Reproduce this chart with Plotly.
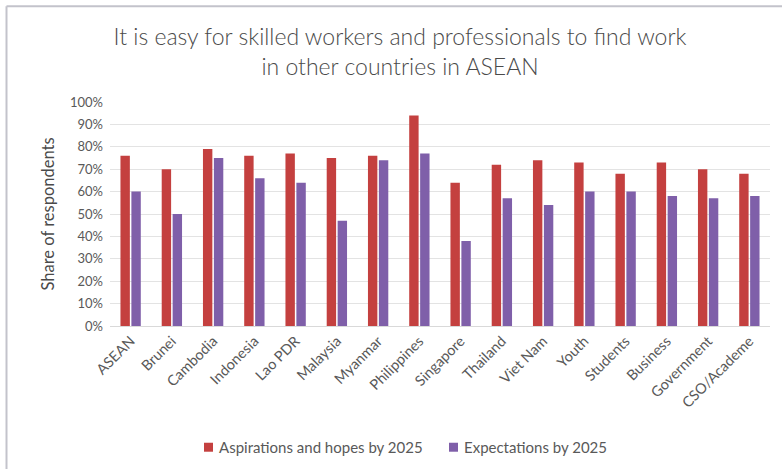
import plotly.graph_objects as go

# Survey categories and the two response series (share of respondents, %)
categories = ["ASEAN", "Brunei", "Cambodia", "Indonesia", "Lao PDR", "Malaysia",
              "Myanmar", "Philippines", "Singapore", "Thailand", "Viet Nam",
              "Youth", "Students", "Business", "Government", "CSO/Academe"]
aspirations = [76, 70, 79, 76, 77, 75, 76, 94, 64, 72, 74, 73, 68, 73, 70, 68]
expectations = [60, 50, 75, 66, 64, 47, 74, 77, 38, 57, 54, 60, 60, 58, 57, 58]
series_names = ["Aspirations and hopes by 2025", "Expectations by 2025"]

y_ticks = list(range(0, 101, 10))
y_tick_labels = [f"{v}%" for v in y_ticks]

FONT = "Lato"
RED = "#c4403f"
PURPLE = "#7f5fa9"

fig = go.Figure()
fig.add_trace(go.Bar(x=categories, y=aspirations, name=series_names[0],
                     marker=dict(color=RED, line=dict(width=0))))
fig.add_trace(go.Bar(x=categories, y=expectations, name=series_names[1],
                     marker=dict(color=PURPLE, line=dict(width=0))))

W, H = 782, 469
L, R, T, B = 110, 12, 101.5, 143
pw, ph = W - L - R, H - T - B


def px_to_paper_x(px):
    return (px - L) / pw


def px_to_paper_y(py):
    return 1 - (py - T) / ph


# Frame around the whole graphic (top and left edges visible)
shapes = [
    dict(type="line", xref="paper", yref="paper",
         x0=px_to_paper_x(6.5), x1=px_to_paper_x(W + 10),
         y0=px_to_paper_y(5.5), y1=px_to_paper_y(5.5),
         line=dict(color="#c3c3cb", width=2)),
    dict(type="line", xref="paper", yref="paper",
         x0=px_to_paper_x(6.5), x1=px_to_paper_x(6.5),
         y0=px_to_paper_y(5.5), y1=px_to_paper_y(H + 10),
         line=dict(color="#c3c3cb", width=2)),
]
annotations = []

# Compact legend below the chart: small swatch followed closely by the label
legend_items = [(series_names[0], RED, 204), (series_names[1], PURPLE, 449)]
legend_y = 447.5
for name, color, x_px in legend_items:
    shapes.append(dict(type="rect", xref="paper", yref="paper",
                       x0=px_to_paper_x(x_px), x1=px_to_paper_x(x_px + 9),
                       y0=px_to_paper_y(legend_y + 4.5), y1=px_to_paper_y(legend_y - 4.5),
                       fillcolor=color, line=dict(width=0)))
    annotations.append(dict(text=name, xref="paper", yref="paper",
                            x=px_to_paper_x(x_px + 13), y=px_to_paper_y(legend_y),
                            xanchor="left", yanchor="middle", showarrow=False,
                            font=dict(family=FONT, size=15, color="#595959")))

fig.update_layout(
    width=W, height=H,
    margin=dict(l=L, r=R, t=T, b=B),
    paper_bgcolor="white", plot_bgcolor="white",
    font=dict(family=FONT, color="#595959", size=13),
    barmode="group", bargap=0.47, bargroupgap=0.14,
    showlegend=False,
    title=dict(
        text="It is easy for skilled workers and professionals to find work<br>in other countries in ASEAN",
        x=400 / W, xanchor="center", xref="container",
        y=1 - 45 / H, yanchor="middle", yref="container",
        font=dict(family=FONT, size=23, color="#4a4a4a", weight=300),
    ),
    xaxis=dict(
        tickangle=-45, showgrid=False, showline=True, linecolor="#d9d9d9", linewidth=1,
        ticks="", tickfont=dict(size=14.5, color="#595959"),
    ),
    yaxis=dict(
        range=[0, 100], tickvals=y_ticks, ticktext=y_tick_labels,
        showgrid=True, gridcolor="#e3e3e3", gridwidth=1, zeroline=False,
        showline=False, ticks="", ticklabelstandoff=6,
        tickfont=dict(size=13, color="#595959"),
        title=dict(text="Share of respondents", standoff=11,
                   font=dict(size=16.5, color="#4a4a4a")),
    ),
    shapes=shapes,
    annotations=annotations,
)

fig.write_html("out.html")
